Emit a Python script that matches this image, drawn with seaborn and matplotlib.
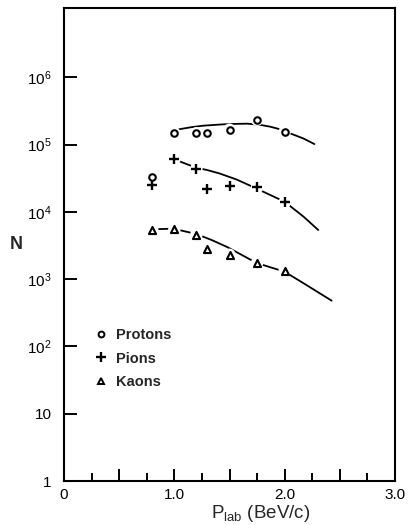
import numpy as np
import pandas as pd
import matplotlib
matplotlib.use("Agg")
import matplotlib.pyplot as plt
import seaborn as sns
from matplotlib.lines import Line2D

# ---- data ----
proton_p = [0.8, 1.0, 1.2, 1.3, 1.5, 1.75, 2.0]
proton_n = [3.3e4, 1.47e5, 1.47e5, 1.48e5, 1.66e5, 2.34e5, 1.54e5]

pion_p = [0.8, 1.0, 1.2, 1.3, 1.5, 1.75, 2.0]
pion_n = [2.5e4, 6.0e4, 4.4e4, 2.2e4, 2.4e4, 2.3e4, 1.38e4]

kaon_p = [0.8, 1.0, 1.2, 1.3, 1.5, 1.75, 2.0]
kaon_n = [5.4e3, 5.5e3, 4.6e3, 2.8e3, 2.3e3, 1.74e3, 1.32e3]

# fitted curves
proton_curve_p = [1.04, 1.15, 1.26, 1.44, 1.56, 1.66, 1.77, 1.87, 1.96, 2.05, 2.17, 2.27]
proton_curve_n = [10**5.226, 10**5.257, 10**5.28, 10**5.30, 10**5.307, 10**5.31, 10**5.295,
                  10**5.265, 10**5.226, 10**5.166, 10**5.09, 10**5.007]

pion_curve_p = [1.0, 1.19, 1.30, 1.41, 1.565, 1.74, 1.87, 2.0, 2.17, 2.305]
pion_curve_n = [10**4.78, 10**4.66, 10**4.62, 10**4.57, 10**4.48, 10**4.35,
                10**4.25, 10**4.15, 10**3.93, 10**3.73]

kaon_curve_p = [0.8, 0.99, 1.2, 1.34, 1.475, 1.746, 2.0, 2.2, 2.426]
kaon_curve_n = [10**3.74, 10**3.75, 10**3.67, 10**3.58, 10**3.48, 10**3.24,
                10**3.11, 10**2.91, 10**2.68]

legend_labels = ["Protons", "Pions", "Kaons"]
x_tick_labels = ["0", "", "1.0", "", "2.0", "", "3.0"]
y_tick_labels = ["1", "10", r"$10^{2}$", r"$10^{3}$", r"$10^{4}$", r"$10^{5}$", r"$10^{6}$"]

# ---- styling ----
sns.set_theme(style="ticks")
plt.rcParams["font.family"] = ["Liberation Sans", "DejaVu Sans"]
plt.rcParams["mathtext.default"] = "regular"

fig = plt.figure(figsize=(4.08, 5.25), dpi=100)
ax = fig.add_axes([0.157, 0.0838, 0.811, 0.901])

curves = [(proton_curve_p, proton_curve_n),
          (pion_curve_p, pion_curve_n),
          (kaon_curve_p, kaon_curve_n)]
for cp, cn in curves:
    dfc = pd.DataFrame({"p": cp, "n": cn})
    sns.lineplot(data=dfc, x="p", y="n", ax=ax, color="black", lw=1.3,
                 sort=True, estimator=None, zorder=2)

sets = [(proton_p, proton_n), (pion_p, pion_n), (kaon_p, kaon_n)]
# white halos to make gaps in the curve around markers
for xs, ys in sets:
    dfp = pd.DataFrame({"p": xs, "n": ys})
    sns.scatterplot(data=dfp, x="p", y="n", ax=ax, marker="o", s=80,
                    color="white", edgecolor="none", zorder=3)

dfo = pd.DataFrame({"p": proton_p, "n": proton_n})
sns.scatterplot(data=dfo, x="p", y="n", ax=ax, marker="o", s=22,
                facecolor="white", edgecolor="black", linewidth=1.5, zorder=4)
dfpi = pd.DataFrame({"p": pion_p, "n": pion_n})
sns.scatterplot(data=dfpi, x="p", y="n", ax=ax, marker="+", s=42,
                color="black", linewidth=1.7, zorder=4)
dfk = pd.DataFrame({"p": kaon_p, "n": kaon_n})
sns.scatterplot(data=dfk, x="p", y="n", ax=ax, marker="^", s=26,
                facecolor="white", edgecolor="black", linewidth=1.5, zorder=4)

ax.set_yscale("log")
ax.set_ylim(1, 1.07e7)
ax.set_xlim(0, 3.0)

ax.set_yticks([10**i for i in range(7)])
ax.set_yticklabels(y_tick_labels, fontsize=11)
ax.yaxis.set_minor_locator(matplotlib.ticker.NullLocator())
ax.set_xticks(np.arange(0, 3.01, 0.5))
ax.set_xticklabels(x_tick_labels, fontsize=11)
ax.set_xticks(np.arange(0.25, 3.0, 0.5), minor=True)

ax.tick_params(axis="both", which="major", direction="in", length=9, width=1.4,
               color="black", labelcolor="black")
ax.tick_params(axis="x", which="minor", direction="in", length=6, width=1.4, color="black")
ax.tick_params(axis="x", pad=5)
ax.tick_params(axis="y", pad=9)
for sp in ax.spines.values():
    sp.set_visible(True)
    sp.set_linewidth(1.5)
    sp.set_color("black")

ax.set_xlabel(r"$P_{lab}$ (BeV/c)", fontsize=13.5)
ax.xaxis.set_label_coords(0.595, -0.047)
ax.set_ylabel("N", fontsize=13, rotation=0, va="center", fontweight="bold")
ax.yaxis.set_label_coords(-0.143, 0.5)

handles = [
    Line2D([], [], ls="none", marker="o", ms=4.2, mfc="white", mec="black", mew=1.4),
    Line2D([], [], ls="none", marker="+", ms=6.5, mec="black", mew=1.7),
    Line2D([], [], ls="none", marker="^", ms=4.6, mfc="white", mec="black", mew=1.4),
]
leg = ax.legend(handles, legend_labels, loc="upper left",
                bbox_to_anchor=(0.05, 0.352), frameon=False, fontsize=10.5,
                handletextpad=0.5, labelspacing=0.68, handlelength=1.0)
for t in leg.get_texts():
    t.set_fontweight("bold")

fig.savefig("out.png", dpi=100)
